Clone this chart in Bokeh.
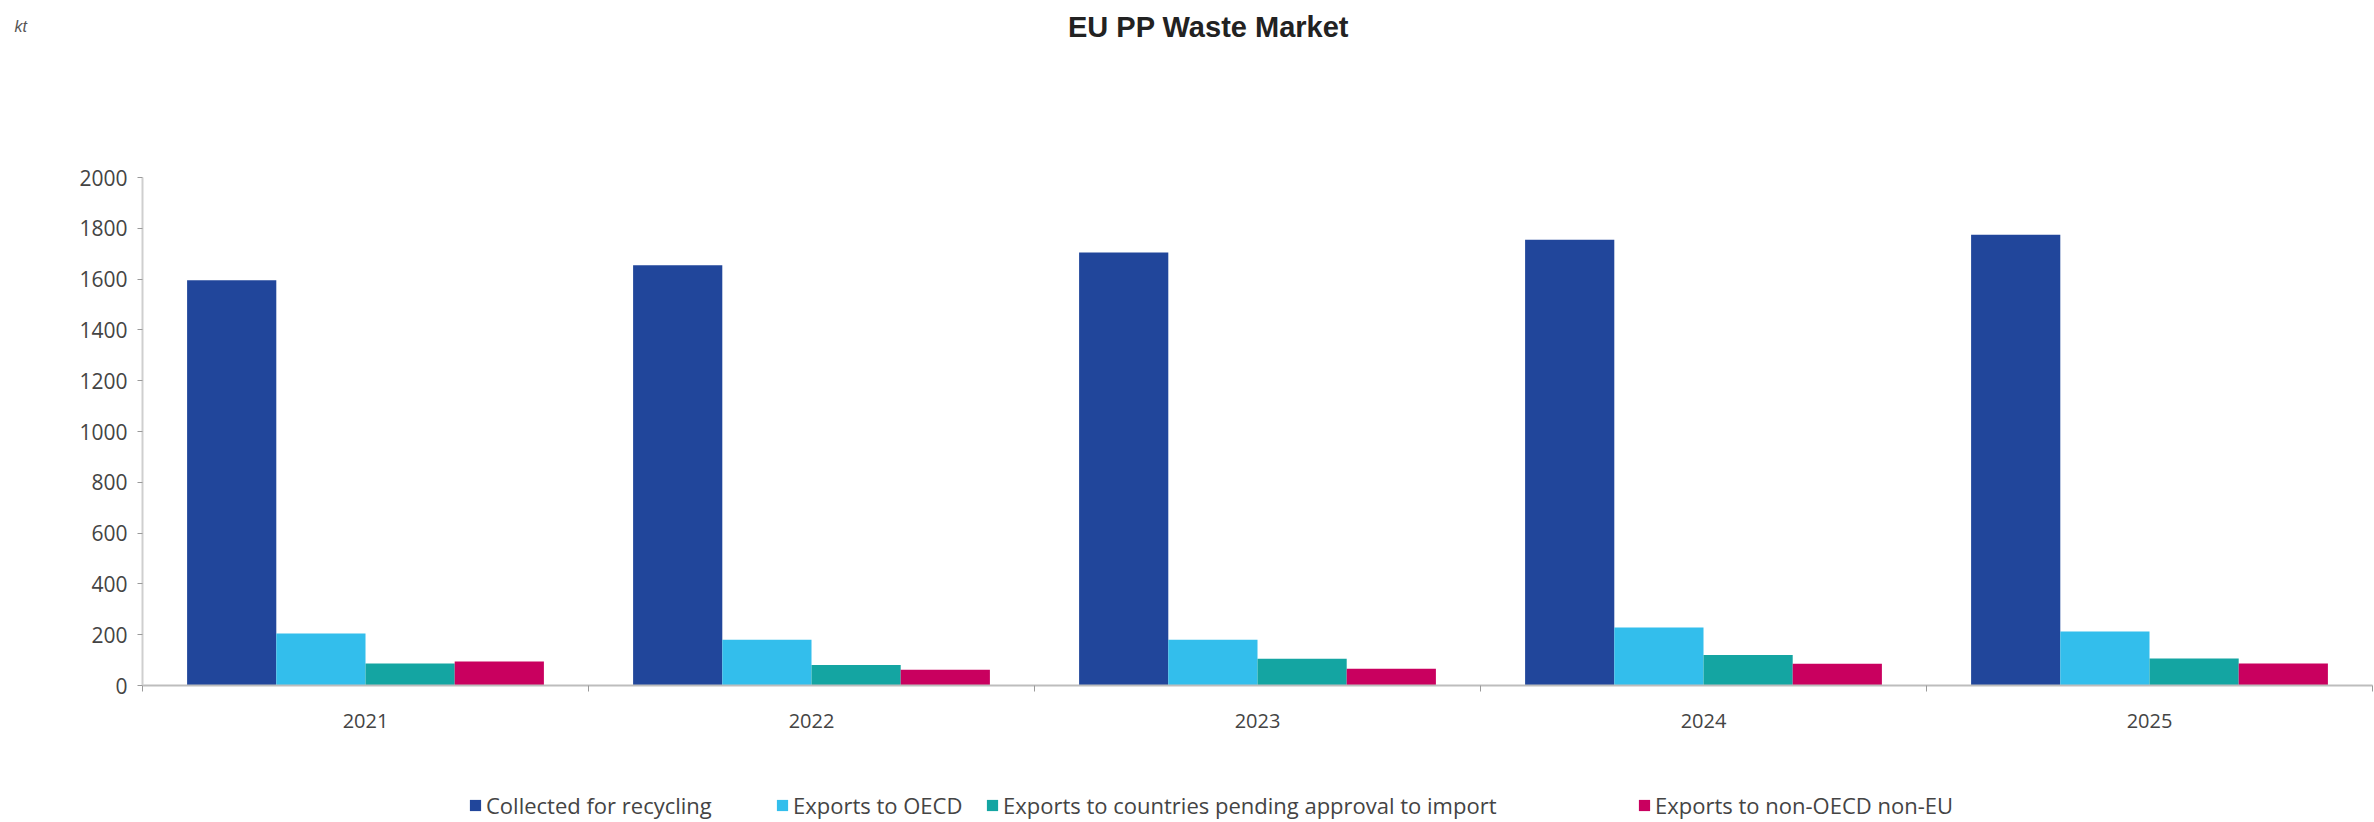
from bokeh.plotting import figure
from bokeh.models import (Range1d, FixedTicker, Legend, LegendItem, Label, LinearAxis,
                          ColumnDataSource)
from bokeh.embed import file_html
from bokeh.resources import INLINE

# ---- data ----
years = ["2021", "2022", "2023", "2024", "2025"]
series_names = [
    "Collected for recycling",
    "Exports to OECD",
    "Exports to countries pending approval to import",
    "Exports to non-OECD non-EU",
]
collected = [1595, 1655, 1705, 1755, 1775]
exports_oecd = [205, 180, 180, 228, 213]
exports_pending = [87, 81, 105, 120, 106]
exports_non_oecd = [94, 62, 66, 86, 87]
y_ticks = [0, 200, 400, 600, 800, 1000, 1200, 1400, 1600, 1800, 2000]
y_max = 2000
title_text = "EU PP Waste Market"
unit_text = "kt"

# ---- layout / style (pixels) ----
W, H = 2374, 822
PX_LEFT = 142        # where the first year slot starts
SLOT_PX = 446        # width of one year slot
PX_ZERO = 685        # pixel row of value 0
PX_TOP = 177         # pixel row of value y_max
PX_PER_UNIT = (PX_ZERO - PX_TOP) / y_max
colors = ["#21469B", "#33BEEC", "#14A5A2", "#C9005F"]
offsets = [-0.3, -0.1, 0.1, 0.3]
legend_px = [468, 775, 985, 1637]
FONT = "Open Sans"


def px_x(px):
    return (px - PX_LEFT) / SLOT_PX


def px_y(py):
    return (PX_ZERO - py) / PX_PER_UNIT


n = len(years)
centers = [i + 0.5 for i in range(n)]
series = [collected, exports_oecd, exports_pending, exports_non_oecd]

p = figure(width=W, height=H,
           x_range=Range1d(px_x(0), px_x(W)), y_range=Range1d(px_y(H), px_y(0)),
           output_backend="svg", toolbar_location=None,
           x_axis_location=None, y_axis_location=None,
           min_border=0, min_border_left=0, min_border_right=0,
           min_border_top=0, min_border_bottom=0)
p.outline_line_color = None
p.background_fill_color = "white"
p.border_fill_color = "white"
p.xgrid.visible = False
p.ygrid.visible = False

renderers = []
for i, vals in enumerate(series):
    src = ColumnDataSource(dict(x=[c + offsets[i] for c in centers], top=vals, year=years))
    r = p.vbar(x="x", top="top", width=0.2, bottom=0, source=src,
               fill_color=colors[i], line_color=None)
    renderers.append(r)

# y axis at the left edge of the first slot
ya = LinearAxis(fixed_location=0, bounds=(0, y_max), ticker=FixedTicker(ticks=y_ticks))
ya.axis_line_color = "#cfcfcf"
ya.axis_line_width = 2
ya.major_tick_line_color = "#9a9a9a"
ya.major_tick_out = 5
ya.major_tick_in = 0
ya.minor_tick_line_color = None
ya.major_label_standoff = 10
ya.major_label_text_font = FONT
ya.major_label_text_font_size = "21px"
ya.major_label_text_color = "#444444"
p.add_layout(ya, "left")

# x axis along value 0: year labels at slot centres, small ticks between groups
xa = LinearAxis(fixed_location=0, bounds=(0, n),
                ticker=FixedTicker(ticks=centers, minor_ticks=list(range(n + 1))))
xa.major_label_overrides = {c: y for c, y in zip(centers, years)}
xa.axis_line_color = "#bdbdbd"
xa.axis_line_width = 2
xa.major_tick_line_color = None
xa.major_tick_out = 0
xa.major_tick_in = 0
xa.minor_tick_line_color = "#9a9a9a"
xa.minor_tick_out = 6
xa.minor_tick_in = 0
xa.major_label_standoff = 22
xa.major_label_text_font = FONT
xa.major_label_text_font_size = "20px"
xa.major_label_text_color = "#444444"
p.add_layout(xa, "below")

# legend (one per item, so each sits where the reference puts it)
for i in range(4):
    lg = Legend(items=[LegendItem(label=series_names[i], renderers=[renderers[i]])],
                location=(legend_px[i], 2), orientation="horizontal",
                padding=0, margin=0, border_line_color=None, background_fill_alpha=0,
                glyph_width=14, glyph_height=14, label_standoff=4,
                label_text_font=FONT, label_text_font_size="22px", label_text_color="#444444")
    p.add_layout(lg, "center")

# titles
p.add_layout(Label(x=px_x(1208), y=px_y(26), text=title_text,
                   text_align="center", text_baseline="middle", text_font="Liberation Sans",
                   text_font_style="bold", text_font_size="29px", text_color="#222222"))
p.add_layout(Label(x=px_x(14), y=px_y(26), text=unit_text,
                   text_align="left", text_baseline="middle", text_font="Liberation Sans",
                   text_font_style="italic", text_font_size="16px", text_color="#555555"))

open("out.html", "w").write(file_html(p, INLINE))
